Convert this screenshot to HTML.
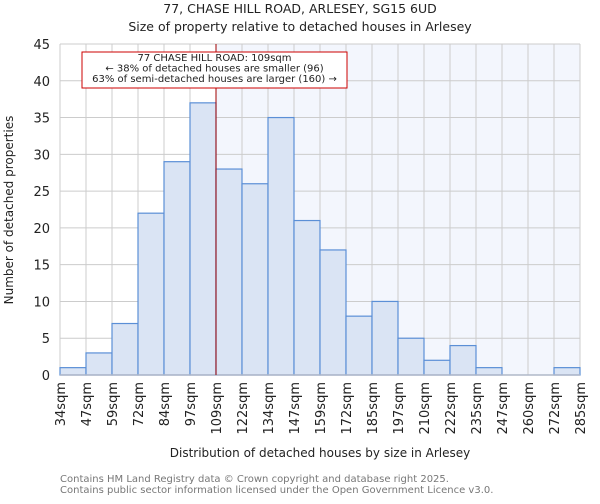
<!DOCTYPE html>
<html><head><meta charset="utf-8"><style>
body{margin:0;background:#fff;font-family:"DejaVu Sans","Liberation Sans",sans-serif}
</style></head><body>
<svg id="chart" width="600" height="500" xmlns="http://www.w3.org/2000/svg" font-family="DejaVu Sans, Liberation Sans, sans-serif">
<text x="300" y="13" text-anchor="middle" font-size="12.5" fill="#222">77, CHASE HILL ROAD, ARLESEY, SG15 6UD</text>
<text x="300" y="31" text-anchor="middle" font-size="12.5" fill="#222">Size of property relative to detached houses in Arlesey</text>
<g id="plot"></g>
<text x="320" y="457" text-anchor="middle" font-size="12" fill="#222">Distribution of detached houses by size in Arlesey</text>
<text transform="translate(13,210) rotate(-90)" text-anchor="middle" font-size="12" fill="#222">Number of detached properties</text>
<text x="60" y="482" font-size="10" fill="#777">Contains HM Land Registry data © Crown copyright and database right 2025.</text>
<text x="60" y="493" font-size="10" fill="#777">Contains public sector information licensed under the Open Government Licence v3.0.</text>
</svg>
<script>
const binLabels=["34sqm","47sqm","59sqm","72sqm","84sqm","97sqm","109sqm","122sqm","134sqm","147sqm","159sqm","172sqm","185sqm","197sqm","210sqm","222sqm","235sqm","247sqm","260sqm","272sqm","285sqm"];
const counts=[1,3,7,22,29,37,28,26,35,21,17,8,10,5,2,4,1,0,0,1];
const yTicks=[0,5,10,15,20,25,30,35,40,45];
const markerIndex=6;
const X0=60,X1=580,Y0=375,Y1=44,YMAX=45;
const nb=counts.length;
const xs=i=>X0+i*(X1-X0)/nb;
const ys=v=>Y0-v*(Y0-Y1)/YMAX;
const NS="http://www.w3.org/2000/svg";
const g=document.getElementById('plot');
function mk(t,a){const e=document.createElementNS(NS,t);for(const k in a)e.setAttribute(k,a[k]);g.appendChild(e);return e;}
let e=mk('rect',{x:xs(markerIndex),y:Y1,width:X1-xs(markerIndex),height:Y0-Y1,fill:'#f3f6fd'});


for(let i=0;i<=nb;i++){e=mk('line',{x1:xs(i),x2:xs(i),y1:Y1,y2:Y0,stroke:'#ccc','stroke-width':1});

}
yTicks.forEach(t=>{e=mk('line',{x1:X0,x2:X1,y1:ys(t),y2:ys(t),stroke:'#ccc','stroke-width':1});


e=mk('text',{x:X0-10,y:ys(t)+5,'text-anchor':'end','font-size':13,fill:'#222'});e.textContent=t;

});
counts.forEach((c,i)=>{if(c<=0)return;e=mk('rect',{x:xs(i),y:ys(c),width:xs(i+1)-xs(i),height:Y0-ys(c),fill:'#dae4f4',stroke:'#5b8fd6','stroke-width':1.2});

});
e=mk('line',{x1:X0,x2:X1,y1:Y0,y2:Y0,stroke:'#b0b8c8','stroke-width':1.5});


binLabels.forEach((l,i)=>{e=mk('text',{transform:`translate(${xs(i)+5},382) rotate(-90)`,'text-anchor':'end','font-size':13,fill:'#222'});e.textContent=l;

});
e=mk('line',{x1:xs(markerIndex),x2:xs(markerIndex),y1:Y1,y2:Y0,stroke:'#a00000','stroke-width':1});


e=mk('rect',{x:82,y:52,width:265,height:36,fill:'#fff',stroke:'#c00','stroke-width':1});


["77 CHASE HILL ROAD: 109sqm","← 38% of detached houses are smaller (96)","63% of semi-detached houses are larger (160) →"].forEach((t,i)=>{e=mk('text',{x:214.5,y:61+i*10.5,'text-anchor':'middle','font-size':10,fill:'#222'});e.textContent=t;

});
</script>
</body></html>
